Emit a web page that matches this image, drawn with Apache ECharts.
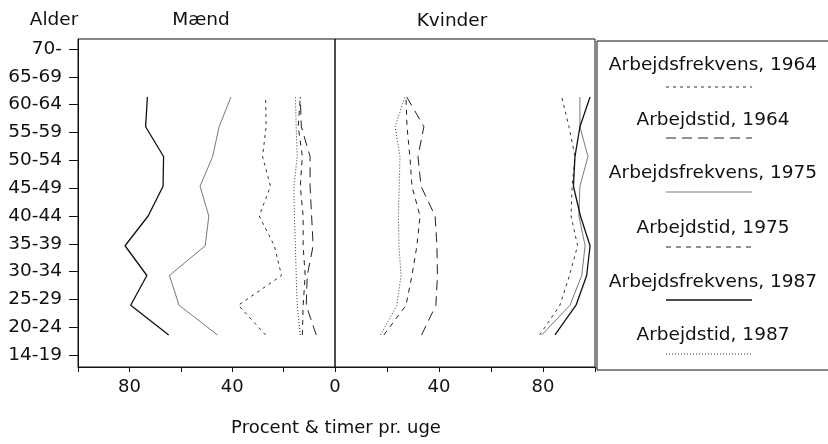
<!DOCTYPE html>
<html><head><meta charset="utf-8">
<script src="https://cdn.jsdelivr.net/npm/echarts@6/dist/echarts.min.js"></script>
<style>html,body{margin:0;padding:0;background:#fff}#c{width:828px;height:444px}</style>
</head><body><div id="c"></div>
<script>
// Age groups on the y axis (bottom to top)
const ageLabels = ['14-19','20-24','25-29','30-34','35-39','40-44','45-49','50-54','55-59','60-64','65-69','70-'];
// Age groups that carry data (bottom to top)
const dataAges = ['20-24','25-29','30-34','35-39','40-44','45-49','50-54','55-59','60-64'];
const xLabelsMen = [80, 40];
const xLabelsWomen = [0, 40, 80];
const seriesNames = ['Arbejdsfrekvens, 1964','Arbejdstid, 1964','Arbejdsfrekvens, 1975','Arbejdstid, 1975','Arbejdsfrekvens, 1987','Arbejdstid, 1987'];

// Mænd (values per dataAges)
const menFrek1964 = [27.0, 37.6, 20.8, 23.6, 29.5, 25.1, 28.2, 26.8, 27.0];
const menTid1964  = [7.3, 11.2, 10.8, 8.5, 9.1, 9.7, 9.7, 13.1, 13.5];
const menFrek1975 = [45.7, 60.7, 64.4, 50.5, 49.1, 52.5, 47.6, 45.1, 40.5];
const menTid1975  = [12.7, 12.4, 11.6, 12.4, 12.4, 13.5, 12.7, 14.3, 13.5];
const menFrek1987 = [64.7, 79.5, 73.2, 81.7, 72.7, 66.9, 66.7, 73.7, 73.0];
const menTid1987  = [13.5, 14.7, 15.1, 15.4, 15.8, 16.0, 14.7, 15.1, 15.4];

// Kvinder (values per dataAges)
const womenFrek1964 = [78.7, 86.5, 90.2, 93.3, 90.8, 91.2, 92.3, 90.0, 87.2];
const womenTid1964  = [33.3, 38.8, 39.4, 39.2, 38.5, 33.1, 31.9, 34.2, 27.6];
const womenFrek1975 = [79.5, 90.4, 94.9, 96.2, 93.8, 94.2, 97.3, 94.2, 94.2];
const womenTid1975  = [18.8, 27.3, 29.6, 31.5, 32.7, 29.6, 28.8, 27.7, 27.3];
const womenFrek1987 = [84.6, 92.7, 96.8, 98.1, 94.4, 91.7, 92.3, 94.2, 98.1];
const womenTid1987  = [17.5, 23.8, 25.4, 24.6, 24.4, 24.7, 25.0, 23.1, 26.9];

const menData = [menFrek1964, menTid1964, menFrek1975, menTid1975, menFrek1987, menTid1987];
const womenData = [womenFrek1964, womenTid1964, womenFrek1975, womenTid1975, womenFrek1987, womenTid1987];

const FONT = 'DejaVu Sans';
const INK = '#111';
const lineStyles = [
  {type:[3,4], width:1, color:'#333'},
  {type:[10,6], width:1, color:'#222'},
  {type:'solid', width:0.8, color:'#555'},
  {type:[5,5], width:1, color:'#222'},
  {type:'solid', width:1.3, color:'#111'},
  {type:[1,2], width:1, color:'#333'}
];

function pairs(vals){ return vals.map((v,i)=>[v, ageLabels.indexOf(dataAges[i])]); }

const series = [];
seriesNames.forEach((n,i)=>{
  series.push({name:n, type:'line', xAxisIndex:0, yAxisIndex:1, data:pairs(menData[i]), symbol:'none', lineStyle:lineStyles[i], silent:true});
  series.push({name:n, type:'line', xAxisIndex:1, yAxisIndex:2, data:pairs(womenData[i]), symbol:'none', lineStyle:lineStyles[i], silent:true});
});

const idx = ageLabels.map((_,i)=>i);
const axisLineStyle = {color:INK, width:1};

const graphics = [];
function txt(t,x,y,size){ graphics.push({type:'text', style:{text:t, x:x, y:y, textAlign:'center', textVerticalAlign:'middle', font: size+'px "'+FONT+'"', fill:INK}}); }
txt('Alder', 54, 20, 18.5);
txt('Mænd', 201, 20, 18.5);
txt('Kvinder', 452, 21, 18.5);
txt('Procent & timer pr. uge', 336, 428, 18);
graphics.push({type:'rect', shape:{x:597, y:41, width:245, height:329}, style:{fill:'none', stroke:INK, lineWidth:1}});
const legTextY = [65, 120, 173, 228, 282, 335];
const legLineY = [87, 138, 192, 247, 300, 354];
seriesNames.forEach((n,i)=>{
  txt(n, 713, legTextY[i], 18.5);
  const ls = lineStyles[i];
  graphics.push({type:'line', shape:{x1:666, y1:legLineY[i], x2:752, y2:legLineY[i]},
    style:{stroke:ls.color, lineWidth:ls.width, lineDash: ls.type==='solid'? null : ls.type}});
});

const option = {
  animation:false,
  backgroundColor:'#fff',
  grid:[
    {left:78, top:39, width:257, height:328, show:true, borderColor:INK, borderWidth:1, backgroundColor:'transparent'},
    {left:335, top:39, width:260, height:328, show:true, borderColor:INK, borderWidth:1, backgroundColor:'transparent'}
  ],
  xAxis:[
    {gridIndex:0, type:'value', inverse:true, min:0, max:100, interval:20, position:'bottom',
      axisLine:{show:true, onZero:false, lineStyle:axisLineStyle}, axisTick:{show:true, length:5, lineStyle:axisLineStyle},
      axisLabel:{formatter:v=>xLabelsMen.includes(v)?String(v):'', fontSize:18, fontFamily:FONT, color:INK, margin:11},
      splitLine:{show:false}},
    {gridIndex:1, type:'value', min:0, max:100, interval:20, position:'bottom',
      axisLine:{show:true, onZero:false, lineStyle:axisLineStyle}, axisTick:{show:true, length:5, lineStyle:axisLineStyle},
      axisLabel:{formatter:v=>xLabelsWomen.includes(v)?String(v):'', fontSize:18, fontFamily:FONT, color:INK, margin:11},
      splitLine:{show:false}}
  ],
  yAxis:[
    {gridIndex:0, type:'value', min:-0.43, max:11.36, position:'left',
      axisLine:{show:true, onZero:false, lineStyle:axisLineStyle},
      axisTick:{show:true, length:9, customValues:idx, lineStyle:axisLineStyle},
      axisLabel:{customValues:idx, formatter:v=>ageLabels[Math.round(v)], fontSize:18.5, fontFamily:FONT, color:INK, margin:16},
      splitLine:{show:false}},
    {gridIndex:0, type:'value', min:-0.076, max:10.95, show:false, axisLine:{onZero:false}},
    {gridIndex:1, type:'value', min:-0.076, max:10.95, show:false, axisLine:{onZero:false}}
  ],
  series: series,
  graphic: graphics
};
const chart = echarts.init(document.getElementById('c'), null, {renderer:'canvas'});
chart.setOption(option);
</script></body></html>
